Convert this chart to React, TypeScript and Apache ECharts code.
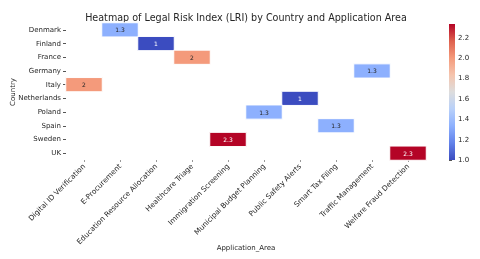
import React, { useEffect, useRef } from "react";
import * as echarts from "echarts";

const countries = ["Denmark", "Finland", "France", "Germany", "Italy", "Netherlands", "Poland", "Spain", "Sweden", "UK"];
const areas = [
  "Digital ID Verification",
  "E-Procurement",
  "Education Resource Allocation",
  "Healthcare Triage",
  "Immigration Screening",
  "Municipal Budget Planning",
  "Public Safety Alerts",
  "Smart Tax Filing",
  "Traffic Management",
  "Welfare Fraud Detection",
];
const cellAreas = ["E-Procurement", "Education Resource Allocation", "Healthcare Triage", "Traffic Management", "Digital ID Verification", "Public Safety Alerts", "Municipal Budget Planning", "Smart Tax Filing", "Immigration Screening", "Welfare Fraud Detection"];
const cellCountries = ["Denmark", "Finland", "France", "Germany", "Italy", "Netherlands", "Poland", "Spain", "Sweden", "UK"];
const cellValues = [1.333, 1, 2, 1.333, 2, 1, 1.333, 1.333, 2.333, 2.333];
const colorTicks = [1.0, 1.2, 1.4, 1.6, 1.8, 2.0, 2.2];

const titleText = "Heatmap of Legal Risk Index (LRI) by Country and Application Area";
const xName = "Application_Area";
const yName = "Country";

const vMin = 1;
const vMax = 2.333;
const coolwarm = ["#3b4cc0", "#6282ea", "#8db0fe", "#b8d0f9", "#dddddd", "#f5c4ad", "#f49a7b", "#de604d", "#b40426"];

const fmt = (v: number) => String(parseFloat(v.toPrecision(2)));

export default function App() {
  const ref = useRef<HTMLDivElement>(null);
  useEffect(() => {
    if (!ref.current) return;
    const chart = echarts.init(ref.current, null, { renderer: "svg" });
    const data = cellValues.map((v, i) => {
      const norm = (v - vMin) / (vMax - vMin);
      const light = norm > 0.15 && norm < 0.85;
      return {
        value: [areas.indexOf(cellAreas[i]), countries.indexOf(cellCountries[i]), v],
        label: { color: light ? "#262626" : "#ffffff" },
      };
    });
    const font = "DejaVu Sans";
    const txt = "#262626";
    chart.setOption({
      animation: false,
      textStyle: { fontFamily: font },
      graphic: [
        {
          type: "text",
          x: 246,
          y: 17,
          style: { text: titleText, fontSize: 9.6, fill: txt, fontFamily: font, align: "center", verticalAlign: "middle" },
        },
        {
          type: "text",
          x: 13,
          y: 92,
          rotation: Math.PI / 2,
          style: { text: yName, fontSize: 7, fill: txt, fontFamily: font, align: "center", verticalAlign: "middle" },
        },
        {
          type: "text",
          x: 246,
          y: 248,
          style: { text: xName, fontSize: 7, fill: txt, fontFamily: font, align: "center", verticalAlign: "middle" },
        },
      ],
      grid: [
        { left: 66, top: 23, width: 360, height: 137, outerBoundsMode: "none", containLabel: false },
        { left: 449, top: 24, width: 6, height: 136, outerBoundsMode: "none", containLabel: false },
      ],
      xAxis: [
        {
          type: "category",
          data: areas,
          gridIndex: 0,
          axisLine: { show: false },
          axisTick: { show: true, alignWithLabel: true, length: 2, lineStyle: { color: "#999" } },
          axisLabel: { rotate: 45, fontSize: 7.3, color: txt, margin: 5, interval: 0 },
          splitLine: { show: false },
        },
        {
          type: "value",
          gridIndex: 1,
          show: false,
          min: 0,
          max: 1,
        },
      ],
      yAxis: [
        {
          type: "category",
          data: countries,
          inverse: true,
          gridIndex: 0,
          axisLine: { show: false },
          axisTick: { show: true, alignWithLabel: true, length: 3, lineStyle: { color: "#555" } },
          axisLabel: { fontSize: 7, color: txt, margin: 5, interval: 0 },
          splitLine: { show: false },
        },
        {
          type: "value",
          gridIndex: 1,
          position: "right",
          min: vMin,
          max: vMax,
          interval: 0.2,
          axisLine: { show: false },
          axisTick: { show: true, length: 3, lineStyle: { color: "#555" } },
          axisLabel: {
            fontSize: 7,
            color: txt,
            margin: 3,
            showMaxLabel: false,
            formatter: (v: number) => (colorTicks.some((t) => Math.abs(t - v) < 1e-6) ? v.toFixed(1) : ""),
          },
          splitLine: { show: false },
        },
      ],
      visualMap: {
        show: false,
        min: vMin,
        max: vMax,
        dimension: 2,
        seriesIndex: 0,
        inRange: { color: coolwarm },
      },
      series: [
        {
          type: "heatmap",
          xAxisIndex: 0,
          yAxisIndex: 0,
          data,
          itemStyle: { borderColor: "#ffffff", borderWidth: 1 },
          label: {
            show: true,
            fontSize: 6,
            formatter: (p: any) => fmt(p.value[2]),
          },
        },
        {
          type: "custom",
          xAxisIndex: 1,
          yAxisIndex: 1,
          data: [[0, vMin, vMax]],
          renderItem: (params: any, api: any) => {
            const p0 = api.coord([0, api.value(1)]);
            const p1 = api.coord([1, api.value(2)]);
            return {
              type: "rect",
              shape: { x: p0[0], y: p1[1], width: p1[0] - p0[0], height: p0[1] - p1[1] },
              style: {
                fill: new echarts.graphic.LinearGradient(
                  0, 1, 0, 0,
                  coolwarm.map((c, i) => ({ offset: i / (coolwarm.length - 1), color: c }))
                ),
              },
            };
          },
        },
      ],
    });
    return () => chart.dispose();
  }, []);
  return <div ref={ref} style={{ position: "fixed", left: 0, top: 0, width: 480, height: 259 }} />;
}
